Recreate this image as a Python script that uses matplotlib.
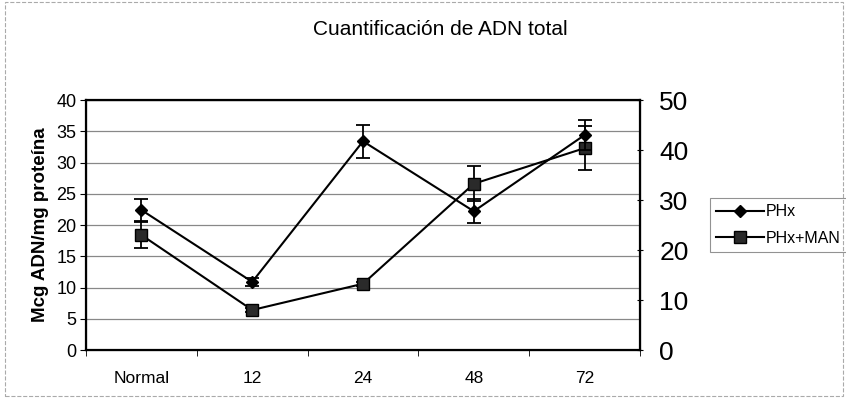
import numpy as np
import matplotlib.pyplot as plt
from matplotlib.patches import Rectangle
from matplotlib.lines import Line2D

plt.rcParams['font.family'] = ['Liberation Sans', 'DejaVu Sans']

categorias = ['Normal', '12', '24', '48', '72']
phx = [22.4, 10.9, 33.4, 22.2, 34.4]
phx_err = [1.8, 0.7, 2.6, 1.9, 2.4]
phx_man = [18.4, 6.4, 10.6, 26.6, 32.3]
phx_man_err = [2.1, 0.3, 0.3, 2.8, 3.5]

fig = plt.figure(figsize=(8.46, 3.98), dpi=100)
ax = fig.add_axes([0.1017, 0.1206, 0.6548, 0.6281])
x = np.arange(len(categorias))

ax.errorbar(x, phx, yerr=phx_err, color='black', marker='D', markersize=6,
            lw=1.5, capsize=5, elinewidth=1.3, capthick=1.3, zorder=4)
ax.errorbar(x, phx_man, yerr=phx_man_err, color='black', marker='s', markersize=8,
            markerfacecolor='#2a2a2a', markeredgecolor='black',
            lw=1.5, capsize=5, elinewidth=1.3, capthick=1.3, zorder=3)

ax.set_xlim(-0.5, 4.5)
ax.set_ylim(0, 40)
ax.set_yticks(np.arange(0, 41, 5))
ax.set_xticks(x)
ax.set_xticklabels(categorias, fontsize=12.5)
ax.set_xticks(np.arange(-0.5, 4.6, 1), minor=True)
ax.tick_params(axis='x', which='major', length=0, pad=15)
ax.tick_params(axis='x', which='minor', length=4, direction='out')
ax.tick_params(axis='y', labelsize=13, length=4, pad=3)
ax.yaxis.grid(True, color='#888888', lw=0.9)
ax.set_axisbelow(True)
for s in ax.spines.values():
    s.set_linewidth(1.6)
ax.set_ylabel('Mcg ADN/mg proteína', fontsize=13.5, fontweight='bold', labelpad=5)

ax2 = ax.twinx()
ax2.set_ylim(0, 50)
ax2.set_yticks(np.arange(0, 51, 10))
ax2.tick_params(axis='y', labelsize=19, length=4, pad=12, direction='inout')

fig.text(0.52, 0.925, 'Cuantificación de ADN total', fontsize=15,
         ha='center', va='center')

handles = [
    Line2D([], [], color='black', marker='D', markersize=6, lw=1.5),
    Line2D([], [], color='black', marker='s', markersize=8, lw=1.5,
           markerfacecolor='#2a2a2a'),
]
leg = ax.legend(handles, ['PHx', 'PHx+MAN'], loc='center left',
                bbox_to_anchor=(1.112, 0.5), fontsize=11.5,
                frameon=True, fancybox=False, edgecolor='#777777',
                handlelength=3.0, borderpad=0.4, labelspacing=0.7, handletextpad=0.1)
leg.get_frame().set_linewidth(0.8)

fig.patches.append(Rectangle((0.006, 0.005), 0.99, 0.99, transform=fig.transFigure,
                             fill=False, edgecolor='#aaaaaa', lw=0.8, linestyle='--'))

fig.savefig('out.png', dpi=100)
